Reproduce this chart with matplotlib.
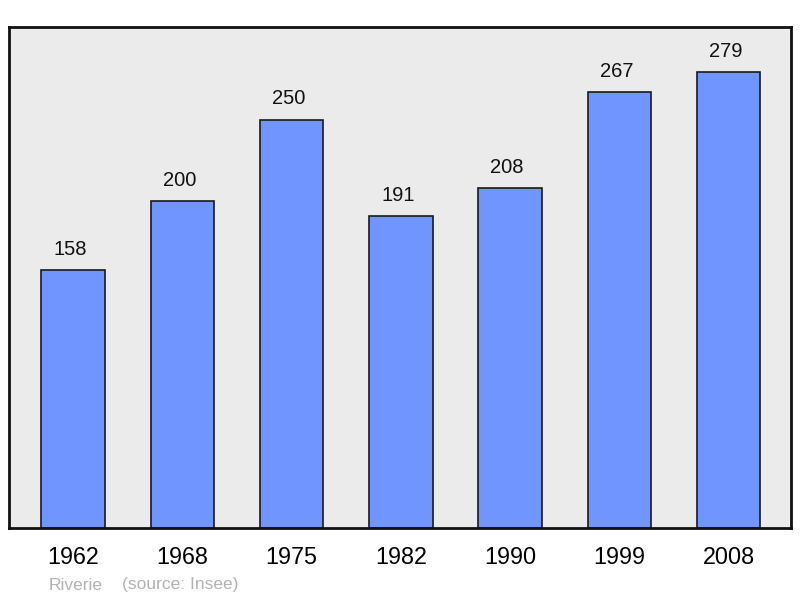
import matplotlib
matplotlib.use("Agg")
import matplotlib.pyplot as plt
import matplotlib.transforms as mtransforms

years = ["1962", "1968", "1975", "1982", "1990", "1999", "2008"]
population = [158, 200, 250, 191, 208, 267, 279]

plt.rcParams['font.family'] = ['Liberation Sans', 'DejaVu Sans']

fig = plt.figure(figsize=(8, 5.98), dpi=100)
W, H = 800, 598
ax = fig.add_axes([9 / W, (H - 528) / H, 782 / W, 501 / H])
ax.set_facecolor('#ebebeb')

x = range(len(years))
ax.bar(x, population, width=0.58, color='#7095ff', edgecolor='#1a1a1a', linewidth=1.2, zorder=2)

# value labels sit a little left of the bar centre in the original
shift = mtransforms.offset_copy(ax.transData, fig=fig, x=-3, y=0, units='dots')
for xi, v in zip(x, population):
    ax.text(xi, v + 7, str(v), ha='center', va='bottom', fontsize=14.5,
            color='#111111', transform=shift)

ax.set_xlim(-0.585, 6.57)
ax.set_ylim(0, 306.8)
ax.set_yticks([])
ax.set_xticks(list(x))
ax.set_xticklabels(years, fontsize=16.8)
ax.tick_params(axis='x', length=0, pad=13)
for s in ax.spines.values():
    s.set_linewidth(2)
    s.set_color('#111111')

fig.text(49 / W, 1 - 585 / H, "Riverie", fontsize=12.5, color='#b3b3b3', va='center')
fig.text(122 / W, 1 - 585 / H, "(source: Insee)", fontsize=12.5, color='#b3b3b3', va='center')

fig.savefig("out.png", dpi=100)
